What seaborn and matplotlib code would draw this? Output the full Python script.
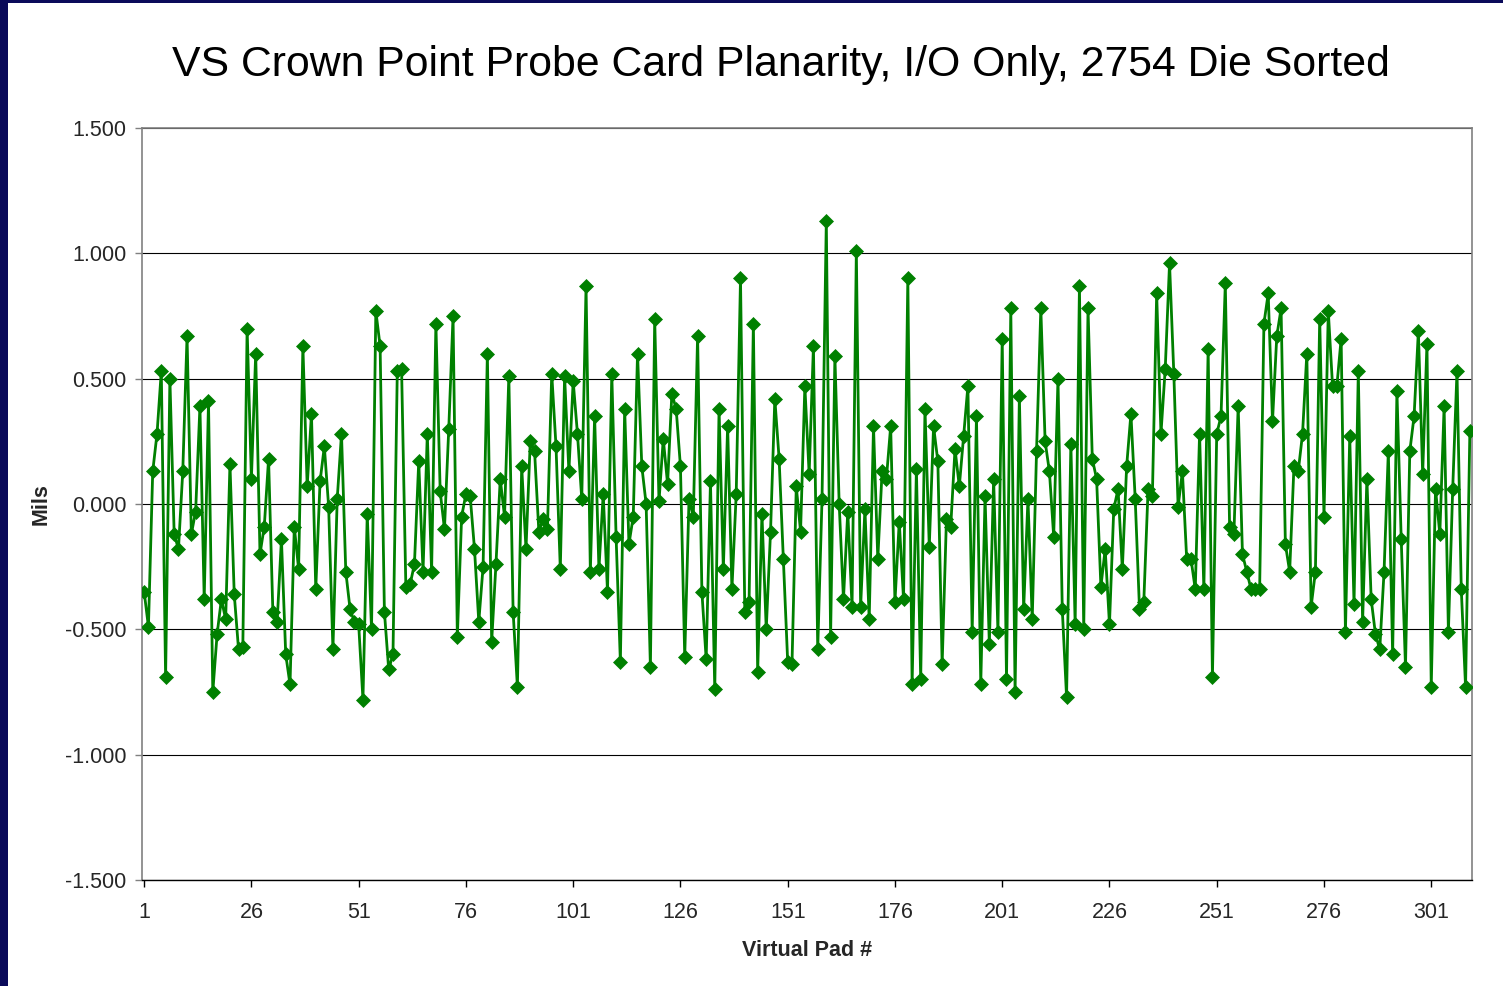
import numpy as np
import pandas as pd
import matplotlib
matplotlib.use("Agg")
import matplotlib.pyplot as plt
from matplotlib.patches import Rectangle
import seaborn as sns

# Planarity readings (mils) per virtual pad
pad_numbers = list(range(1, 311))
planarity_mils = [
    -0.35, -0.49, 0.13, 0.28, 0.53, -0.69, 0.50, -0.12, -0.18, 0.13,
    0.67, -0.12, -0.03, 0.39, -0.38, 0.41, -0.75, -0.52, -0.38, -0.46,
    0.16, -0.36, -0.58, -0.57, 0.70, 0.10, 0.60, -0.20, -0.09, 0.18,
    -0.43, -0.47, -0.14, -0.60, -0.72, -0.09, -0.26, 0.63, 0.07, 0.36,
    -0.34, 0.09, 0.23, -0.01, -0.58, 0.02, 0.28, -0.27, -0.42, -0.47,
    -0.48, -0.78, -0.04, -0.50, 0.77, 0.63, -0.43, -0.66, -0.60, 0.53,
    0.54, -0.33, -0.32, -0.24, 0.17, -0.27, 0.28, -0.27, 0.72, 0.05,
    -0.10, 0.30, 0.75, -0.53, -0.05, 0.04, 0.03, -0.18, -0.47, -0.25,
    0.60, -0.55, -0.24, 0.10, -0.05, 0.51, -0.43, -0.73, 0.15, -0.18,
    0.25, 0.21, -0.11, -0.06, -0.10, 0.52, 0.23, -0.26, 0.51, 0.13,
    0.49, 0.28, 0.02, 0.87, -0.27, 0.35, -0.26, 0.04, -0.35, 0.52,
    -0.13, -0.63, 0.38, -0.16, -0.05, 0.60, 0.15, 0.00, -0.65, 0.74,
    0.01, 0.26, 0.08, 0.44, 0.38, 0.15, -0.61, 0.02, -0.05, 0.67,
    -0.35, -0.62, 0.09, -0.74, 0.38, -0.26, 0.31, -0.34, 0.04, 0.90,
    -0.43, -0.39, 0.72, -0.67, -0.04, -0.50, -0.11, 0.42, 0.18, -0.22,
    -0.63, -0.64, 0.07, -0.11, 0.47, 0.12, 0.63, -0.58, 0.02, 1.13,
    -0.53, 0.59, 0.00, -0.38, -0.03, -0.41, 1.01, -0.41, -0.02, -0.46,
    0.31, -0.22, 0.13, 0.10, 0.31, -0.39, -0.07, -0.38, 0.90, -0.72,
    0.14, -0.70, 0.38, -0.17, 0.31, 0.17, -0.64, -0.06, -0.09, 0.22,
    0.07, 0.27, 0.47, -0.51, 0.35, -0.72, 0.03, -0.56, 0.10, -0.51,
    0.66, -0.70, 0.78, -0.75, 0.43, -0.42, 0.02, -0.46, 0.21, 0.78,
    0.25, 0.13, -0.13, 0.50, -0.42, -0.77, 0.24, -0.48, 0.87, -0.50,
    0.78, 0.18, 0.10, -0.33, -0.18, -0.48, -0.02, 0.06, -0.26, 0.15,
    0.36, 0.02, -0.42, -0.39, 0.06, 0.03, 0.84, 0.28, 0.54, 0.96,
    0.52, -0.01, 0.13, -0.22, -0.22, -0.34, 0.28, -0.34, 0.62, -0.69,
    0.28, 0.35, 0.88, -0.09, -0.12, 0.39, -0.20, -0.27, -0.34, -0.34,
    -0.34, 0.72, 0.84, 0.33, 0.67, 0.78, -0.16, -0.27, 0.15, 0.13,
    0.28, 0.60, -0.41, -0.27, 0.74, -0.05, 0.77, 0.47, 0.47, 0.66,
    -0.51, 0.27, -0.40, 0.53, -0.47, 0.10, -0.38, -0.52, -0.58, -0.27,
    0.21, -0.60, 0.45, -0.14, -0.65, 0.21, 0.35, 0.69, 0.12, 0.64,
    -0.73, 0.06, -0.12, 0.39, -0.51, 0.06, 0.53, -0.34, -0.73, 0.29,
]
x_tick_labels = ["1", "26", "51", "76", "101", "126", "151", "176",
                 "201", "226", "251", "276", "301"]
y_ticks = [-1.5, -1.0, -0.5, 0.0, 0.5, 1.0, 1.5]

title_text = "VS Crown Point Probe Card Planarity, I/O Only, 2754 Die Sorted"

sns.set_theme(style="white")
plt.rcParams["font.family"] = ["Liberation Sans", "DejaVu Sans"]

df = pd.DataFrame({"pad": pad_numbers, "mils": planarity_mils})

fig = plt.figure(figsize=(15.03, 9.86), dpi=100)
fig.patch.set_facecolor("white")

# slide frame on the left and top edges
fig.patches.append(Rectangle((0, 0), 8 / 1503, 1, transform=fig.transFigure,
                             facecolor="#0a0a5a", edgecolor="none", zorder=0))
fig.patches.append(Rectangle((0, 1 - 3 / 986), 1, 3 / 986, transform=fig.transFigure,
                             facecolor="#0a0a5a", edgecolor="none", zorder=0))

ax = fig.add_axes([142 / 1503, 1 - 880 / 986, (1472 - 142) / 1503, (880 - 128) / 986])

sns.lineplot(data=df, x="pad", y="mils", ax=ax, color="#008000",
             linewidth=2.0, marker="D", markersize=7.5,
             markerfacecolor="#008000", markeredgecolor="#008000",
             markeredgewidth=0.5, zorder=3)

ax.set_xlim(0.5, len(pad_numbers) + 0.5)
ax.set_ylim(-1.5, 1.5)

tick_fs = 15.5
ax.set_yticks(y_ticks)
ax.set_yticklabels([f"{v:.3f}" for v in y_ticks], fontsize=tick_fs)
ax.set_xticks([int(s) for s in x_tick_labels])
ax.set_xticklabels(x_tick_labels, fontsize=tick_fs)

ax.yaxis.grid(True, color="black", linewidth=0.8)
ax.xaxis.grid(False)
ax.set_axisbelow(True)

for side in ["left", "right", "top"]:
    ax.spines[side].set_color("#808080")
    ax.spines[side].set_linewidth(1.2)
ax.spines["bottom"].set_color("black")
ax.spines["bottom"].set_linewidth(1.0)

ax.tick_params(axis="y", which="major", direction="out", length=5, width=1,
               color="#808080", left=True, pad=6)
ax.tick_params(axis="x", which="major", direction="out", length=5, width=1,
               color="black", bottom=True, pad=11)

ax.set_xlabel("Virtual Pad #", fontsize=tick_fs, fontweight="bold", labelpad=12)
ax.set_ylabel("Mils", fontsize=tick_fs, fontweight="bold", labelpad=10)

fig.text(781 / 1503, 1 - 65 / 986, title_text, ha="center", va="center",
         fontsize=30.8, color="black")

fig.savefig("out.png", dpi=100)
